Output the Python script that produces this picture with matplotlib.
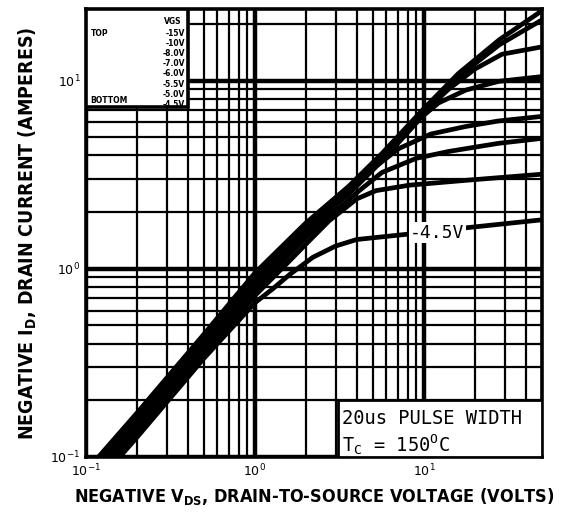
import matplotlib
matplotlib.use("Agg")
import matplotlib.pyplot as plt
import matplotlib.ticker as ticker
import numpy as np

# output characteristics (VDS in volts, ID in amperes)
vgs_labels = ['-15V', '-10V', '-8.0V', '-7.0V', '-6.0V', '-5.5V', '-5.0V', '-4.5V']

vds_15 = [0.1, 0.2, 0.5, 1.0, 2.0, 3.6, 5.65, 9.7, 16, 28, 50]
id_15 = [0.084, 0.171, 0.45, 0.95, 1.75, 2.75, 4.1, 6.9, 10.9, 16.5, 23.5]

vds_10 = [0.1, 0.2, 0.5, 1.0, 2.0, 3.6, 5.65, 9.7, 16, 28, 50]
id_10 = [0.0805, 0.164, 0.432, 0.91, 1.7, 2.68, 4.0, 6.75, 10.5, 15.5, 21.0]

vds_8 = [0.1, 0.2, 0.5, 1.0, 2.0, 3.6, 5.65, 9.7, 14, 20, 29, 50]
id_8 = [0.0772, 0.157, 0.414, 0.875, 1.66, 2.62, 3.9, 6.6, 9.0, 11.5, 13.8, 15.1]

vds_7 = [0.1, 0.2, 0.5, 1.0, 2.0, 3.6, 5.65, 9.7, 12.2, 17.7, 27.7, 50]
id_7 = [0.074, 0.150, 0.397, 0.84, 1.6, 2.5, 3.75, 6.4, 7.6, 8.9, 9.9, 10.5]

vds_6 = [0.1, 0.2, 0.5, 1.0, 2.0, 3.0, 4.0, 5.2, 7.1, 11, 17.7, 27.7, 50]
id_6 = [0.071, 0.144, 0.38, 0.80, 1.52, 2.18, 2.85, 3.5, 4.35, 5.2, 5.7, 6.1, 6.45]

vds_55 = [0.1, 0.2, 0.5, 1.0, 2.0, 3.0, 4.1, 5.65, 9.0, 14, 27.7, 50]
id_55 = [0.068, 0.138, 0.365, 0.77, 1.46, 2.02, 2.58, 3.25, 3.86, 4.2, 4.64, 4.93]

vds_5 = [0.1, 0.2, 0.5, 1.0, 1.6, 2.0, 2.75, 3.24, 4.0, 5.2, 8.2, 17.7, 50]
id_5 = [0.065, 0.132, 0.35, 0.72, 1.1, 1.35, 1.8, 2.02, 2.35, 2.6, 2.78, 2.95, 3.18]

vds_45 = [0.1, 0.2, 0.5, 1.0, 1.27, 1.6, 2.2, 3.0, 4.0, 8.2, 17.7, 50]
id_45 = [0.0625, 0.127, 0.335, 0.66, 0.78, 0.93, 1.15, 1.32, 1.43, 1.53, 1.65, 1.82]

curves = [(vds_15, id_15), (vds_10, id_10), (vds_8, id_8), (vds_7, id_7),
          (vds_6, id_6), (vds_55, id_55), (vds_5, id_5), (vds_45, id_45)]

plt.rcParams['mathtext.fontset'] = 'dejavusans'

fig = plt.figure(figsize=(5.65, 5.13), dpi=100, facecolor='w')
ax = fig.add_axes([0.1522, 0.1092, 0.8071, 0.8733])
ax.set_xscale('log')
ax.set_yscale('log')
ax.set_xlim(0.1, 50)
ax.set_ylim(0.1, 24)

# graph-paper grid
ax.grid(True, which='major', color='k', linewidth=3.2)
ax.grid(True, which='minor', color='k', linewidth=1.6)
ax.set_axisbelow(True)
ax.tick_params(which='both', length=0, labelsize=9, pad=4)
ax.xaxis.set_minor_formatter(ticker.NullFormatter())
ax.yaxis.set_minor_formatter(ticker.NullFormatter())
for s in ax.spines.values():
    s.set_linewidth(2.6)

for (x, y) in curves:
    ax.plot(x, y, color='k', linewidth=3.4, solid_capstyle='butt', zorder=3)

ax.text(12.0, 1.55, '-4.5V', family='DejaVu Sans Mono', fontsize=13,
        ha='center', va='center', zorder=4,
        bbox=dict(facecolor='white', edgecolor='none', pad=1.0))

# legend box, top left
ax.add_patch(plt.Rectangle((0, 0.781), 0.224, 0.219, transform=ax.transAxes,
                           facecolor='white', edgecolor='k', linewidth=2.6, zorder=5))
ax.text(0.19, 0.982, 'VGS', transform=ax.transAxes, fontsize=5.5, weight='bold',
        ha='center', va='top', zorder=6)
ax.text(0.01, 0.955, 'TOP', transform=ax.transAxes, fontsize=5.5, weight='bold',
        ha='left', va='top', zorder=6)
ax.text(0.01, 0.805, 'BOTTOM', transform=ax.transAxes, fontsize=5.5, weight='bold',
        ha='left', va='top', zorder=6)
for i, lab in enumerate(vgs_labels):
    ax.text(0.217, 0.955 - i * 0.0225, lab, transform=ax.transAxes, fontsize=5.5,
            weight='bold', ha='right', va='top', zorder=6)

# pulse box, bottom right
ax.add_patch(plt.Rectangle((0.552, 0), 0.448, 0.127, transform=ax.transAxes,
                           facecolor='white', edgecolor='k', linewidth=2.0, zorder=5))
ax.text(0.562, 0.108, '20us PULSE WIDTH', transform=ax.transAxes,
        family='DejaVu Sans Mono', fontsize=13.5, ha='left', va='top', zorder=6)
ax.text(0.562, 0.055, r'T$_\mathregular{C}$ = 150$^\mathregular{O}$C', transform=ax.transAxes,
        family='DejaVu Sans Mono', fontsize=13.5, ha='left', va='top', zorder=6)

ax.set_xlabel(r'NEGATIVE V$_\mathregular{DS}$, DRAIN-TO-SOURCE VOLTAGE (VOLTS)',
              fontsize=13, family='DejaVu Sans', stretch='condensed', weight='bold',
              labelpad=5)
ax.set_ylabel(r'NEGATIVE I$_\mathregular{D}$, DRAIN CURRENT (AMPERES)',
              fontsize=14, family='DejaVu Sans', stretch='condensed', weight='bold',
              labelpad=8)

plt.savefig('out.png', dpi=100)
